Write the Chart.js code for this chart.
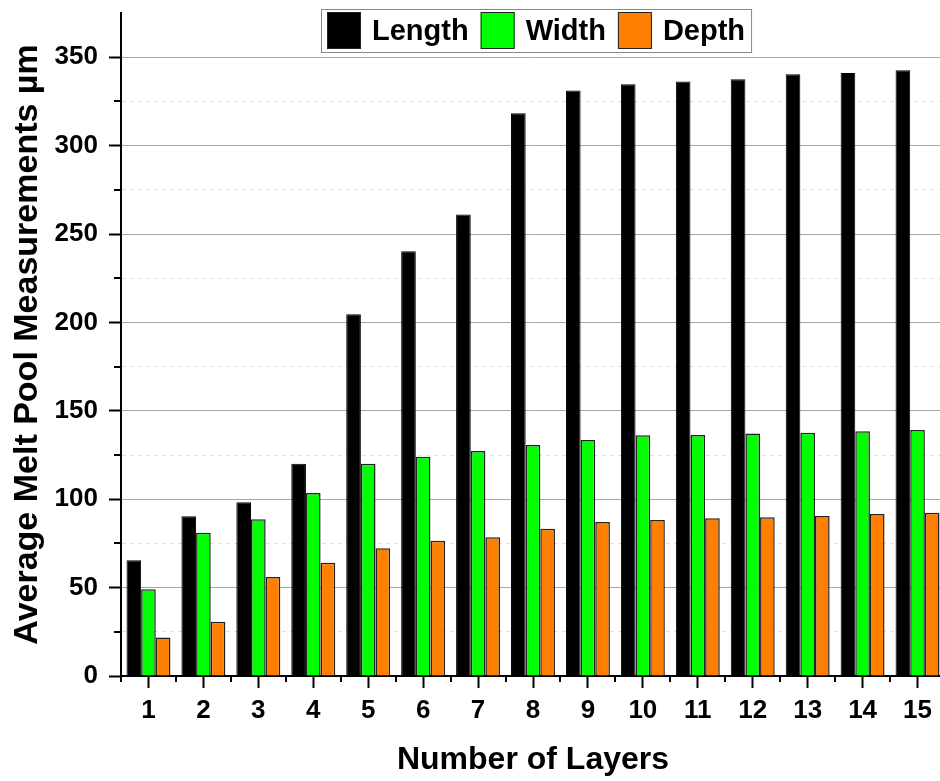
<!DOCTYPE html>
<html>
<head>
<meta charset="utf-8">
<title>Melt pool measurements</title>
<script src="https://cdn.jsdelivr.net/npm/chart.js@4.4.1/dist/chart.umd.min.js"></script>
<style>
  html, body { margin: 0; padding: 0; background: #fff; overflow: hidden; }
  #wrap { width: 946px; height: 781px; }
</style>
</head>
<body>
<div id="wrap"><canvas id="meltChart"></canvas></div>
<script>
const layers = ['1', '2', '3', '4', '5', '6', '7', '8', '9', '10', '11', '12', '13', '14', '15'];
const lengthVals = [65.5, 90.3, 98.3, 120, 204.6, 240.2, 261, 318.3, 331.1, 334.7, 336.2, 337.5, 340.4, 341, 342.6];
const widthVals = [49, 81, 88.6, 103.5, 120, 124, 127.3, 130.7, 133.5, 136.2, 136.3, 137.1, 137.6, 138.4, 139.2];
const depthVals = [21.8, 30.7, 56, 64, 72.2, 76.5, 78.5, 83.3, 87.1, 88.2, 89.2, 89.8, 90.5, 91.6, 92.4];
const yMax = 375;
const yStep = 25;
const yLabelStep = 50;

const FONT = "'Liberation Sans', Arial, sans-serif";

const isMajor = v => v % yLabelStep === 0;

// short ticks between the labelled ones, both axes
const minorTicks = {
    id: 'minorTicks',
    afterDraw(chart) {
        const { ctx, scales: { x, y } } = chart;
        ctx.save();
        ctx.strokeStyle = '#000';
        ctx.lineWidth = 2;
        ctx.beginPath();
        y.ticks.forEach(t => {
            if (!isMajor(t.value) && t.value < yMax) {
                const py = Math.round(y.getPixelForValue(t.value));
                ctx.moveTo(x.left - 7, py);
                ctx.lineTo(x.left, py);
            }
        });
        for (let i = 0; i <= layers.length; i++) {
            const px = Math.round(x.getPixelForValue(i - 0.5));
            ctx.moveTo(px, y.bottom);
            ctx.lineTo(px, y.bottom + 6);
        }
        ctx.stroke();
        ctx.restore();
    }
};

// legend sits inside the plot, boxed, like the original figure
const boxLegend = {
    id: 'boxLegend',
    afterDraw(chart) {
        const { ctx, chartArea } = chart;
        const sets = chart.data.datasets;
        ctx.save();
        ctx.font = 'bold 29px ' + FONT;
        const sq = 34, gapIn = 11, gapOut = 12, pad = 6;
        let total = pad * 2;
        sets.forEach((ds, i) => {
            total += sq + gapIn + ctx.measureText(ds.label).width;
            if (i < sets.length - 1) total += gapOut;
        });
        const left = chartArea.left + 200;
        const top = 9, h = 43;
        ctx.fillStyle = '#fff';
        ctx.fillRect(left, top, total, h);
        ctx.strokeStyle = '#888';
        ctx.lineWidth = 1;
        ctx.strokeRect(left + 0.5, top + 0.5, total, h);
        let cx = left + pad;
        ctx.textBaseline = 'middle';
        sets.forEach(ds => {
            ctx.fillStyle = ds.backgroundColor;
            ctx.fillRect(cx, top + 3, sq, h - 6);
            ctx.strokeStyle = '#222';
            ctx.strokeRect(cx + 0.5, top + 3.5, sq - 1, h - 7);
            cx += sq + gapIn;
            ctx.fillStyle = '#000';
            ctx.fillText(ds.label, cx, top + h / 2 + 1);
            cx += ctx.measureText(ds.label).width + gapOut;
        });
        ctx.restore();
    }
};

new Chart(document.getElementById('meltChart'), {
    type: 'bar',
    data: {
        labels: layers,
        datasets: [
            { label: 'Length', data: lengthVals, backgroundColor: '#000000', borderColor: '#000000', borderWidth: 1 },
            { label: 'Width', data: widthVals, backgroundColor: '#00ff00', borderColor: '#222222', borderWidth: 1.5 },
            { label: 'Depth', data: depthVals, backgroundColor: '#ff8000', borderColor: '#222222', borderWidth: 1.5 }
        ]
    },
    options: {
        responsive: true,
        maintainAspectRatio: false,
        animation: false,
        layout: { padding: { top: 13, right: 1, left: 0, bottom: 0 } },
        datasets: {
            bar: { categoryPercentage: 0.8, barPercentage: 1.0 }
        },
        plugins: {
            legend: { display: false },
            tooltip: { enabled: false }
        },
        scales: {
            x: {
                offset: true,
                afterFit: scale => { scale.height = 105; },
                grid: {
                    offset: false,
                    drawOnChartArea: false,
                    tickLength: 12,
                    tickWidth: 2,
                    tickColor: '#000'
                },
                border: { display: true, color: '#000', width: 2 },
                ticks: {
                    color: '#000',
                    padding: 7,
                    maxRotation: 0,
                    autoSkip: false,
                    font: { family: FONT, size: 26, weight: 'bold' }
                },
                title: {
                    display: true,
                    text: 'Number of Layers',
                    color: '#000',
                    padding: { top: 0, bottom: 2 },
                    font: { family: FONT, size: 32, weight: 'bold' }
                }
            },
            y: {
                min: 0,
                max: yMax,
                afterFit: scale => {
                    scale.width = 121;
                    scale.paddingTop = 0;
                    scale.paddingBottom = 0;
                },
                grid: {
                    color: ctx => {
                        const v = ctx.tick ? ctx.tick.value : 0;
                        if (v >= yMax || v === 0) return 'rgba(0,0,0,0)';
                        return isMajor(v) ? '#a6a6a6' : '#dddddd';
                    },
                    lineWidth: 1,
                    tickLength: 12,
                    tickWidth: 2,
                    tickColor: ctx => (ctx.tick && isMajor(ctx.tick.value) && ctx.tick.value < yMax) ? '#000' : 'rgba(0,0,0,0)'
                },
                border: {
                    display: true,
                    color: '#000',
                    width: 2,
                    dash: ctx => (ctx.tick && !isMajor(ctx.tick.value)) ? [4, 4] : []
                },
                ticks: {
                    stepSize: yStep,
                    color: '#000',
                    padding: 11,
                    font: { family: FONT, size: 26, weight: 'bold' },
                    callback: v => (isMajor(v) && v < yMax) ? String(v) : ''
                },
                title: {
                    display: true,
                    text: 'Average Melt Pool Measurements µm',
                    color: '#000',
                    padding: { top: 7, bottom: 0 },
                    font: { family: FONT, size: 34, weight: 'bold' }
                }
            }
        }
    },
    plugins: [minorTicks, boxLegend]
});
</script>
</body>
</html>
